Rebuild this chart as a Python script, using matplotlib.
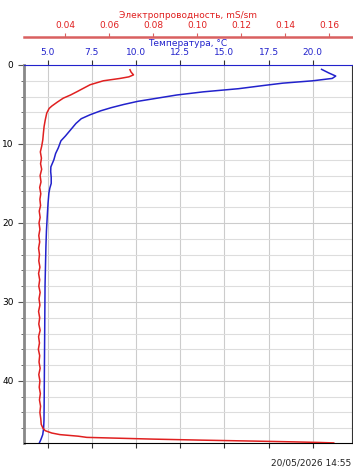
import matplotlib
matplotlib.use("Agg")
import matplotlib.pyplot as plt
from matplotlib.ticker import MultipleLocator

# Temperature profile
temp_depth = [0.55, 1.0, 1.4, 1.7, 2.0, 2.3, 2.6, 3.0, 3.4, 3.8, 4.2, 4.6, 5.0, 5.4, 5.8,
              6.3, 6.8, 7.4, 8.2, 9.0, 9.6, 10.5, 11.2, 12.0, 12.9, 13.5, 14.2, 15.0, 15.6,
              16.2, 17.5, 19.0, 21.0, 23.0, 25.0, 28.0, 31.0, 34.0, 37.0, 40.0, 43.0, 45.0,
              46.0, 46.8, 47.4, 47.9]
temp = [20.5, 20.9, 21.3, 21.1, 20.0, 18.3, 17.2, 15.8, 13.8, 12.3, 11.2, 10.1, 9.3, 8.6, 8.0,
        7.4, 6.9, 6.6, 6.3, 6.0, 5.75, 5.6, 5.45, 5.35, 5.18, 5.17, 5.2, 5.2, 5.12,
        5.07, 5.02, 4.98, 4.93, 4.9, 4.88, 4.85, 4.84, 4.83, 4.82, 4.81, 4.8, 4.79,
        4.77, 4.72, 4.62, 4.52]

# Conductivity profile
cond_depth = [0.6, 0.9, 1.25, 1.5, 1.7, 2.0, 2.5, 3.0, 3.4, 3.8, 4.2, 4.7, 5.2, 5.5, 6.1,
              7.0, 7.8, 8.6, 9.5, 10.3, 11.0, 11.8, 12.5, 13.2, 14.0, 14.8, 15.5, 16.3,
              17.0, 17.8, 18.5, 19.3, 20.0, 20.8, 21.6, 22.4, 23.2, 24.0, 24.8, 25.6,
              26.4, 27.2, 28.0, 28.8, 29.6, 30.4, 31.2, 32.0, 32.8, 33.6, 34.4, 35.2,
              36.0, 36.8, 37.6, 38.4, 39.2, 40.0, 40.8, 41.6, 42.4, 43.2, 44.0, 44.8,
              45.5, 46.0, 46.3, 46.6, 46.8, 47.0, 47.15, 47.25, 47.37, 47.5, 47.62,
              47.72, 47.8, 47.85]
cond = [0.0695, 0.0700, 0.0711, 0.0690, 0.0650, 0.0574, 0.0514, 0.0480, 0.0453, 0.0425,
        0.0392, 0.0365, 0.0340, 0.0328, 0.0317, 0.0310, 0.0305, 0.0302, 0.0299, 0.0294,
        0.0288, 0.0293, 0.0289, 0.0294, 0.0287, 0.0291, 0.0285, 0.0290, 0.0286, 0.0289,
        0.0283, 0.0287, 0.0282, 0.0286, 0.0281, 0.0285, 0.0280, 0.0284, 0.0281, 0.0286,
        0.0280, 0.0285, 0.0281, 0.0287, 0.0282, 0.0286, 0.0280, 0.0285, 0.0281, 0.0287,
        0.0280, 0.0284, 0.0279, 0.0285, 0.0282, 0.0287, 0.0281, 0.0286, 0.0283, 0.0288,
        0.0284, 0.0289, 0.0286, 0.0290, 0.0292, 0.0300, 0.0310, 0.0340, 0.0377, 0.0460,
        0.0499, 0.0635, 0.0800, 0.1020, 0.1256, 0.1440, 0.1560, 0.1620]

temp_ticks = [5.0, 7.5, 10.0, 12.5, 15.0, 17.5, 20.0]
cond_ticks = [0.04, 0.06, 0.08, 0.10, 0.12, 0.14, 0.16]
depth_ticks = [0, 10, 20, 30, 40]
stamp = "20/05/2026 14:55"

plt.rcParams['font.family'] = ['DejaVu Sans']
plt.rcParams['font.size'] = 6.5

fig = plt.figure(figsize=(3.53, 4.71), dpi=100)
ax = fig.add_axes([24/353, 27.7/471, 328/353, 378.3/471])
ax2 = ax.twiny()

BLUE = '#2222cc'
RED = '#e02020'
SALMON = '#d96060'

ax.plot(temp, temp_depth, color=BLUE, lw=1.1)
ax.set_xlim(3.66, 22.22)
ax.set_ylim(47.9, 0)
ax.set_xticks(temp_ticks)
ax.set_xticklabels([f"{t:.1f}" for t in temp_ticks])
ax.xaxis.set_label_position('top')
ax.xaxis.set_ticks_position('both')
ax.tick_params(axis='x', top=True, labeltop=True, bottom=True, labelbottom=False,
               color='#333333', labelcolor=BLUE, length=3.5, pad=2)
ax.set_xlabel("Температура, °C", color=BLUE, labelpad=2)
ax.set_yticks(depth_ticks)
ax.yaxis.set_minor_locator(MultipleLocator(2))
ax.tick_params(axis='y', which='major', length=4, colors='#555555', labelcolor='black')
ax.tick_params(axis='y', which='minor', length=2.5, colors='#555555')
ax.set_ylabel("Глубина, м")
ax.grid(True, which='major', axis='both', color='#cccccc', lw=0.8)
ax.grid(True, which='minor', axis='y', color='#dddddd', lw=0.8)
ax.spines['top'].set_color(BLUE)
ax.spines['left'].set_color('#888888')
ax.spines['left'].set_linewidth(2.0)
ax.spines['bottom'].set_color('black')
ax.spines['right'].set_color('#333333')
ax.spines['right'].set_linewidth(0.8)

ax2.plot(cond, cond_depth, color=RED, lw=1.1)
ax2.set_xlim(0.02138, 0.17031)
ax2.set_xticks(cond_ticks)
ax2.set_xticklabels([f"{c:.2f}" for c in cond_ticks])
ax2.xaxis.set_ticks_position('top')
ax2.xaxis.set_label_position('top')
ax2.spines['top'].set_position(('outward', 20))
ax2.spines['top'].set_color(SALMON)
ax2.spines['top'].set_linewidth(1.8)
for s in ['left', 'right', 'bottom']:
    ax2.spines[s].set_visible(False)
ax2.tick_params(axis='x', colors=SALMON, labelcolor=RED, length=3, pad=2)
ax2.set_xlabel("Электропроводность, mS/sm", color=RED, labelpad=2)
ax2.set_ylim(47.9, 0)

fig.text(351/353, 4/471, stamp, ha='right', va='bottom', fontsize=6.5, color='#222222')

fig.savefig("out.png", dpi=100)
